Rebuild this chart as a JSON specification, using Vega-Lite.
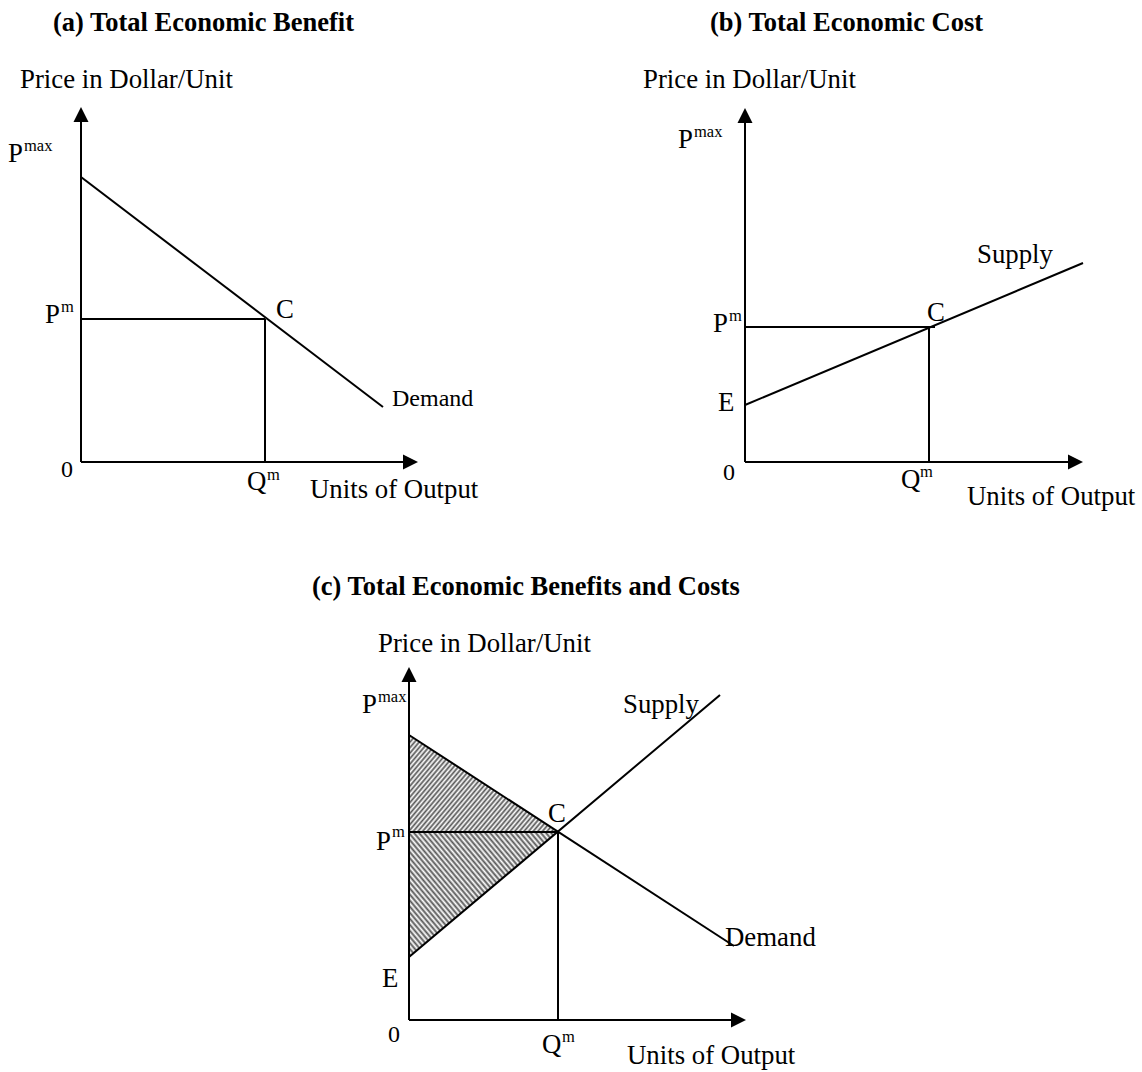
{
  "$schema": "https://vega.github.io/schema/vega-lite/v6.json",
  "padding": 0,
  "background": "white",
  "spacing": 0,
  "bounds": "flush",
  "columns": 2,
  "config": {"view": {"stroke": null}},
  "datasets": {
    "a_rules": [
      {"q": 0, "p": 0, "q2": 0, "p2": 35},
      {"q": 0, "p": 0, "q2": 33.2, "p2": 0},
      {"q": 0, "p": 28.5, "q2": 30.2, "p2": 5.5},
      {"q": 0, "p": 14.3, "q2": 18.4, "p2": 14.3},
      {"q": 18.4, "p": 0, "q2": 18.4, "p2": 14.3}
    ],
    "a_arrows": [
      {"q": 0, "p": 35.5, "dir": "up"},
      {"q": 33.7, "p": 0, "dir": "right"}
    ],
    "a_text": [
      {"q": -6.1, "p": 37.4, "label": "Price in Dollar/Unit", "kind": "big"},
      {"q": -7.3, "p": 30.0, "label": "P", "kind": "big"},
      {"q": -5.7, "p": 31.1, "label": "max", "kind": "sup"},
      {"q": -3.6, "p": 13.9, "label": "P", "kind": "big"},
      {"q": -2.0, "p": 15.0, "label": "m", "kind": "sup"},
      {"q": 19.5, "p": 14.4, "label": "C", "kind": "big"},
      {"q": 31.1, "p": 5.6, "label": "Demand", "kind": "small"},
      {"q": -2.0, "p": -1.5, "label": "0", "kind": "small"},
      {"q": 16.6, "p": -2.8, "label": "Q", "kind": "big"},
      {"q": 18.6, "p": -1.8, "label": "m", "kind": "sup"},
      {"q": 22.9, "p": -3.6, "label": "Units of Output", "kind": "big"}
    ],
    "a_title": [{"q": -2.8, "p": 43.1, "label": "(a) Total Economic Benefit"}],
    "b_rules": [
      {"q": 0, "p": 0, "q2": 0, "p2": 35},
      {"q": 0, "p": 0, "q2": 33.3, "p2": 0},
      {"q": 0, "p": 5.7, "q2": 33.8, "p2": 19.9},
      {"q": 0, "p": 13.5, "q2": 19.0, "p2": 13.5},
      {"q": 18.4, "p": 0, "q2": 18.4, "p2": 13.5}
    ],
    "b_arrows": [
      {"q": 0, "p": 35.4, "dir": "up"},
      {"q": 33.8, "p": 0, "dir": "right"}
    ],
    "b_text": [
      {"q": -10.2, "p": 37.4, "label": "Price in Dollar/Unit", "kind": "big"},
      {"q": -6.7, "p": 31.4, "label": "P", "kind": "big"},
      {"q": -5.1, "p": 32.5, "label": "max", "kind": "sup"},
      {"q": -3.2, "p": 13.0, "label": "P", "kind": "big"},
      {"q": -1.6, "p": 14.1, "label": "m", "kind": "sup"},
      {"q": 18.2, "p": 14.1, "label": "C", "kind": "big"},
      {"q": -2.7, "p": 5.1, "label": "E", "kind": "big"},
      {"q": -2.2, "p": -1.8, "label": "0", "kind": "small"},
      {"q": 15.6, "p": -2.6, "label": "Q", "kind": "big"},
      {"q": 17.5, "p": -1.5, "label": "m", "kind": "sup"},
      {"q": 22.2, "p": -4.3, "label": "Units of Output", "kind": "big"},
      {"q": 23.2, "p": 19.9, "label": "Supply", "kind": "big"}
    ],
    "b_title": [{"q": -3.5, "p": 43.1, "label": "(b) Total Economic Cost"}],
    "c_rules": [
      {"q": 0, "p": 0, "q2": 0, "p2": 34.9},
      {"q": 0, "p": 0, "q2": 33.2, "p2": 0},
      {"q": 0, "p": 28.5, "q2": 32.5, "p2": 7.4},
      {"q": 0, "p": 6.3, "q2": 31.1, "p2": 32.5},
      {"q": 0, "p": 18.8, "q2": 14.9, "p2": 18.8},
      {"q": 14.9, "p": 0, "q2": 14.9, "p2": 18.8}
    ],
    "c_arrows": [
      {"q": 0, "p": 35.3, "dir": "up"},
      {"q": 33.7, "p": 0, "dir": "right"}
    ],
    "c_upper": [
      {"q": 0, "p": 28.5, "p2": 18.8},
      {"q": 14.9, "p": 18.8, "p2": 18.8}
    ],
    "c_lower": [
      {"q": 0, "p": 18.8, "p2": 6.3},
      {"q": 14.9, "p": 18.8, "p2": 18.8}
    ],
    "c_text": [
      {"q": -3.1, "p": 36.8, "label": "Price in Dollar/Unit", "kind": "big"},
      {"q": -4.7, "p": 30.7, "label": "P", "kind": "big"},
      {"q": -3.1, "p": 31.8, "label": "max", "kind": "sup"},
      {"q": -3.3, "p": 17.0, "label": "P", "kind": "big"},
      {"q": -1.7, "p": 18.3, "label": "m", "kind": "sup"},
      {"q": 13.9, "p": 19.8, "label": "C", "kind": "big"},
      {"q": 21.4, "p": 30.7, "label": "Supply", "kind": "big"},
      {"q": 31.6, "p": 7.4, "label": "Demand", "kind": "big"},
      {"q": -2.7, "p": 3.3, "label": "E", "kind": "big"},
      {"q": -2.1, "p": -2.2, "label": "0", "kind": "small"},
      {"q": 13.3, "p": -3.3, "label": "Q", "kind": "big"},
      {"q": 15.3, "p": -2.2, "label": "m", "kind": "sup"},
      {"q": 21.8, "p": -4.4, "label": "Units of Output", "kind": "big"}
    ],
    "c_title": [{"q": -9.7, "p": 42.5, "label": "(c) Total Economic Benefits and Costs"}]
  },
  "concat": [
    {
      "width": 571,
      "height": 540,
      "encoding": {
        "x": {"field": "q", "type": "quantitative", "scale": {"domain": [-8.1, 49.0], "nice": false, "zero": false}, "axis": null},
        "y": {"field": "p", "type": "quantitative", "scale": {"domain": [-7.8, 46.2], "nice": false, "zero": false}, "axis": null}
      },
      "layer": [
        {"data": {"name": "a_rules"}, "mark": {"type": "rule", "strokeWidth": 2, "color": "black"}, "encoding": {"x2": {"field": "q2"}, "y2": {"field": "p2"}}},
        {"data": {"name": "a_arrows"}, "mark": {"type": "point", "filled": true, "opacity": 1, "color": "black", "size": 900, "strokeWidth": 0}, "encoding": {"shape": {"field": "dir", "type": "nominal", "scale": {"domain": ["up", "right"], "range": ["M0,0L-0.5,1L0.5,1Z", "M0,0L-1,-0.5L-1,0.5Z"]}, "legend": null}}},
        {"data": {"name": "a_text"}, "transform": [{"filter": "datum.kind === 'big'"}], "mark": {"type": "text", "align": "left", "baseline": "alphabetic", "font": "Liberation Serif", "fontSize": 26.8, "color": "black"}, "encoding": {"text": {"field": "label"}}},
        {"data": {"name": "a_text"}, "transform": [{"filter": "datum.kind === 'sup'"}], "mark": {"type": "text", "align": "left", "baseline": "alphabetic", "font": "Liberation Serif", "fontSize": 16.5, "color": "black"}, "encoding": {"text": {"field": "label"}}},
        {"data": {"name": "a_text"}, "transform": [{"filter": "datum.kind === 'small'"}], "mark": {"type": "text", "align": "left", "baseline": "alphabetic", "font": "Liberation Serif", "fontSize": 24, "color": "black"}, "encoding": {"text": {"field": "label"}}},
        {"data": {"name": "a_title"}, "mark": {"type": "text", "align": "left", "baseline": "alphabetic", "font": "Liberation Serif", "fontWeight": "bold", "fontSize": 26.5, "color": "black"}, "encoding": {"text": {"field": "label"}}}
      ]
    },
    {
      "width": 571,
      "height": 540,
      "encoding": {
        "x": {"field": "q", "type": "quantitative", "scale": {"domain": [-17.4, 39.7], "nice": false, "zero": false}, "axis": null},
        "y": {"field": "p", "type": "quantitative", "scale": {"domain": [-7.8, 46.2], "nice": false, "zero": false}, "axis": null}
      },
      "layer": [
        {"data": {"name": "b_rules"}, "mark": {"type": "rule", "strokeWidth": 2, "color": "black"}, "encoding": {"x2": {"field": "q2"}, "y2": {"field": "p2"}}},
        {"data": {"name": "b_arrows"}, "mark": {"type": "point", "filled": true, "opacity": 1, "color": "black", "size": 900, "strokeWidth": 0}, "encoding": {"shape": {"field": "dir", "type": "nominal", "scale": {"domain": ["up", "right"], "range": ["M0,0L-0.5,1L0.5,1Z", "M0,0L-1,-0.5L-1,0.5Z"]}, "legend": null}}},
        {"data": {"name": "b_text"}, "transform": [{"filter": "datum.kind === 'big'"}], "mark": {"type": "text", "align": "left", "baseline": "alphabetic", "font": "Liberation Serif", "fontSize": 26.8, "color": "black"}, "encoding": {"text": {"field": "label"}}},
        {"data": {"name": "b_text"}, "transform": [{"filter": "datum.kind === 'sup'"}], "mark": {"type": "text", "align": "left", "baseline": "alphabetic", "font": "Liberation Serif", "fontSize": 16.5, "color": "black"}, "encoding": {"text": {"field": "label"}}},
        {"data": {"name": "b_text"}, "transform": [{"filter": "datum.kind === 'small'"}], "mark": {"type": "text", "align": "left", "baseline": "alphabetic", "font": "Liberation Serif", "fontSize": 24, "color": "black"}, "encoding": {"text": {"field": "label"}}},
        {"data": {"name": "b_title"}, "mark": {"type": "text", "align": "left", "baseline": "alphabetic", "font": "Liberation Serif", "fontWeight": "bold", "fontSize": 26.5, "color": "black"}, "encoding": {"text": {"field": "label"}}}
      ]
    },
    {
      "width": 571,
      "height": 532,
      "encoding": {
        "x": {"field": "q", "type": "quantitative", "scale": {"domain": [-40.9, 16.2], "nice": false, "zero": false}, "axis": null},
        "y": {"field": "p", "type": "quantitative", "scale": {"domain": [-5.2, 48.0], "nice": false, "zero": false}, "axis": null}
      },
      "layer": [
        {"data": {"name": "c_upper"}, "mark": {"type": "area", "opacity": 1, "color": {"gradient": "linear", "x1": 0, "y1": 0, "x2": 1.191, "y2": 0.651, "stops": [{"offset":0,"color":"#fff"},{"offset":0.01,"color":"#555"},{"offset":0.02,"color":"#fff"},{"offset":0.03,"color":"#555"},{"offset":0.04,"color":"#fff"},{"offset":0.05,"color":"#555"},{"offset":0.06,"color":"#fff"},{"offset":0.07,"color":"#555"},{"offset":0.08,"color":"#fff"},{"offset":0.09,"color":"#555"},{"offset":0.1,"color":"#fff"},{"offset":0.11,"color":"#555"},{"offset":0.12,"color":"#fff"},{"offset":0.13,"color":"#555"},{"offset":0.14,"color":"#fff"},{"offset":0.15,"color":"#555"},{"offset":0.16,"color":"#fff"},{"offset":0.17,"color":"#555"},{"offset":0.18,"color":"#fff"},{"offset":0.19,"color":"#555"},{"offset":0.2,"color":"#fff"},{"offset":0.21,"color":"#555"},{"offset":0.22,"color":"#fff"},{"offset":0.23,"color":"#555"},{"offset":0.24,"color":"#fff"},{"offset":0.25,"color":"#555"},{"offset":0.26,"color":"#fff"},{"offset":0.27,"color":"#555"},{"offset":0.28,"color":"#fff"},{"offset":0.29,"color":"#555"},{"offset":0.3,"color":"#fff"},{"offset":0.31,"color":"#555"},{"offset":0.32,"color":"#fff"},{"offset":0.33,"color":"#555"},{"offset":0.34,"color":"#fff"},{"offset":0.35,"color":"#555"},{"offset":0.36,"color":"#fff"},{"offset":0.37,"color":"#555"},{"offset":0.38,"color":"#fff"},{"offset":0.39,"color":"#555"},{"offset":0.4,"color":"#fff"},{"offset":0.41,"color":"#555"},{"offset":0.42,"color":"#fff"},{"offset":0.43,"color":"#555"},{"offset":0.44,"color":"#fff"},{"offset":0.45,"color":"#555"},{"offset":0.46,"color":"#fff"},{"offset":0.47,"color":"#555"},{"offset":0.48,"color":"#fff"},{"offset":0.49,"color":"#555"},{"offset":0.5,"color":"#fff"},{"offset":0.51,"color":"#555"},{"offset":0.52,"color":"#fff"},{"offset":0.53,"color":"#555"},{"offset":0.54,"color":"#fff"},{"offset":0.55,"color":"#555"},{"offset":0.56,"color":"#fff"},{"offset":0.57,"color":"#555"},{"offset":0.58,"color":"#fff"},{"offset":0.59,"color":"#555"},{"offset":0.6,"color":"#fff"},{"offset":0.61,"color":"#555"},{"offset":0.62,"color":"#fff"},{"offset":0.63,"color":"#555"},{"offset":0.64,"color":"#fff"},{"offset":0.65,"color":"#555"},{"offset":0.66,"color":"#fff"},{"offset":0.67,"color":"#555"},{"offset":0.68,"color":"#fff"},{"offset":0.69,"color":"#555"},{"offset":0.7,"color":"#fff"},{"offset":0.71,"color":"#555"},{"offset":0.72,"color":"#fff"},{"offset":0.73,"color":"#555"},{"offset":0.74,"color":"#fff"},{"offset":0.75,"color":"#555"},{"offset":0.76,"color":"#fff"},{"offset":0.77,"color":"#555"},{"offset":0.78,"color":"#fff"},{"offset":0.79,"color":"#555"},{"offset":0.8,"color":"#fff"},{"offset":0.81,"color":"#555"},{"offset":0.82,"color":"#fff"},{"offset":0.83,"color":"#555"},{"offset":0.84,"color":"#fff"},{"offset":0.85,"color":"#555"},{"offset":0.86,"color":"#fff"},{"offset":0.87,"color":"#555"},{"offset":0.88,"color":"#fff"},{"offset":0.89,"color":"#555"},{"offset":0.9,"color":"#fff"},{"offset":0.91,"color":"#555"},{"offset":0.92,"color":"#fff"},{"offset":0.93,"color":"#555"},{"offset":0.94,"color":"#fff"},{"offset":0.95,"color":"#555"},{"offset":0.96,"color":"#fff"},{"offset":0.97,"color":"#555"},{"offset":0.98,"color":"#fff"},{"offset":0.99,"color":"#555"},{"offset":1,"color":"#fff"}]}}, "encoding": {"y2": {"field": "p2"}}},
        {"data": {"name": "c_lower"}, "mark": {"type": "area", "opacity": 1, "color": {"gradient": "linear", "x1": 0, "y1": 1, "x2": 1.139, "y2": 0.198, "stops": [{"offset":0,"color":"#fff"},{"offset":0.01,"color":"#555"},{"offset":0.02,"color":"#fff"},{"offset":0.03,"color":"#555"},{"offset":0.04,"color":"#fff"},{"offset":0.05,"color":"#555"},{"offset":0.06,"color":"#fff"},{"offset":0.07,"color":"#555"},{"offset":0.08,"color":"#fff"},{"offset":0.09,"color":"#555"},{"offset":0.1,"color":"#fff"},{"offset":0.11,"color":"#555"},{"offset":0.12,"color":"#fff"},{"offset":0.13,"color":"#555"},{"offset":0.14,"color":"#fff"},{"offset":0.15,"color":"#555"},{"offset":0.16,"color":"#fff"},{"offset":0.17,"color":"#555"},{"offset":0.18,"color":"#fff"},{"offset":0.19,"color":"#555"},{"offset":0.2,"color":"#fff"},{"offset":0.21,"color":"#555"},{"offset":0.22,"color":"#fff"},{"offset":0.23,"color":"#555"},{"offset":0.24,"color":"#fff"},{"offset":0.25,"color":"#555"},{"offset":0.26,"color":"#fff"},{"offset":0.27,"color":"#555"},{"offset":0.28,"color":"#fff"},{"offset":0.29,"color":"#555"},{"offset":0.3,"color":"#fff"},{"offset":0.31,"color":"#555"},{"offset":0.32,"color":"#fff"},{"offset":0.33,"color":"#555"},{"offset":0.34,"color":"#fff"},{"offset":0.35,"color":"#555"},{"offset":0.36,"color":"#fff"},{"offset":0.37,"color":"#555"},{"offset":0.38,"color":"#fff"},{"offset":0.39,"color":"#555"},{"offset":0.4,"color":"#fff"},{"offset":0.41,"color":"#555"},{"offset":0.42,"color":"#fff"},{"offset":0.43,"color":"#555"},{"offset":0.44,"color":"#fff"},{"offset":0.45,"color":"#555"},{"offset":0.46,"color":"#fff"},{"offset":0.47,"color":"#555"},{"offset":0.48,"color":"#fff"},{"offset":0.49,"color":"#555"},{"offset":0.5,"color":"#fff"},{"offset":0.51,"color":"#555"},{"offset":0.52,"color":"#fff"},{"offset":0.53,"color":"#555"},{"offset":0.54,"color":"#fff"},{"offset":0.55,"color":"#555"},{"offset":0.56,"color":"#fff"},{"offset":0.57,"color":"#555"},{"offset":0.58,"color":"#fff"},{"offset":0.59,"color":"#555"},{"offset":0.6,"color":"#fff"},{"offset":0.61,"color":"#555"},{"offset":0.62,"color":"#fff"},{"offset":0.63,"color":"#555"},{"offset":0.64,"color":"#fff"},{"offset":0.65,"color":"#555"},{"offset":0.66,"color":"#fff"},{"offset":0.67,"color":"#555"},{"offset":0.68,"color":"#fff"},{"offset":0.69,"color":"#555"},{"offset":0.7,"color":"#fff"},{"offset":0.71,"color":"#555"},{"offset":0.72,"color":"#fff"},{"offset":0.73,"color":"#555"},{"offset":0.74,"color":"#fff"},{"offset":0.75,"color":"#555"},{"offset":0.76,"color":"#fff"},{"offset":0.77,"color":"#555"},{"offset":0.78,"color":"#fff"},{"offset":0.79,"color":"#555"},{"offset":0.8,"color":"#fff"},{"offset":0.81,"color":"#555"},{"offset":0.82,"color":"#fff"},{"offset":0.83,"color":"#555"},{"offset":0.84,"color":"#fff"},{"offset":0.85,"color":"#555"},{"offset":0.86,"color":"#fff"},{"offset":0.87,"color":"#555"},{"offset":0.88,"color":"#fff"},{"offset":0.89,"color":"#555"},{"offset":0.9,"color":"#fff"},{"offset":0.91,"color":"#555"},{"offset":0.92,"color":"#fff"},{"offset":0.93,"color":"#555"},{"offset":0.94,"color":"#fff"},{"offset":0.95,"color":"#555"},{"offset":0.96,"color":"#fff"},{"offset":0.97,"color":"#555"},{"offset":0.98,"color":"#fff"},{"offset":0.99,"color":"#555"},{"offset":1,"color":"#fff"}]}}, "encoding": {"y2": {"field": "p2"}}},
        {"data": {"name": "c_rules"}, "mark": {"type": "rule", "strokeWidth": 2, "color": "black"}, "encoding": {"x2": {"field": "q2"}, "y2": {"field": "p2"}}},
        {"data": {"name": "c_arrows"}, "mark": {"type": "point", "filled": true, "opacity": 1, "color": "black", "size": 900, "strokeWidth": 0}, "encoding": {"shape": {"field": "dir", "type": "nominal", "scale": {"domain": ["up", "right"], "range": ["M0,0L-0.5,1L0.5,1Z", "M0,0L-1,-0.5L-1,0.5Z"]}, "legend": null}}},
        {"data": {"name": "c_text"}, "transform": [{"filter": "datum.kind === 'big'"}], "mark": {"type": "text", "align": "left", "baseline": "alphabetic", "font": "Liberation Serif", "fontSize": 26.8, "color": "black"}, "encoding": {"text": {"field": "label"}}},
        {"data": {"name": "c_text"}, "transform": [{"filter": "datum.kind === 'sup'"}], "mark": {"type": "text", "align": "left", "baseline": "alphabetic", "font": "Liberation Serif", "fontSize": 16.5, "color": "black"}, "encoding": {"text": {"field": "label"}}},
        {"data": {"name": "c_text"}, "transform": [{"filter": "datum.kind === 'small'"}], "mark": {"type": "text", "align": "left", "baseline": "alphabetic", "font": "Liberation Serif", "fontSize": 24, "color": "black"}, "encoding": {"text": {"field": "label"}}},
        {"data": {"name": "c_title"}, "mark": {"type": "text", "align": "left", "baseline": "alphabetic", "font": "Liberation Serif", "fontWeight": "bold", "fontSize": 26.5, "color": "black"}, "encoding": {"text": {"field": "label"}}}
      ]
    }
  ]
}
